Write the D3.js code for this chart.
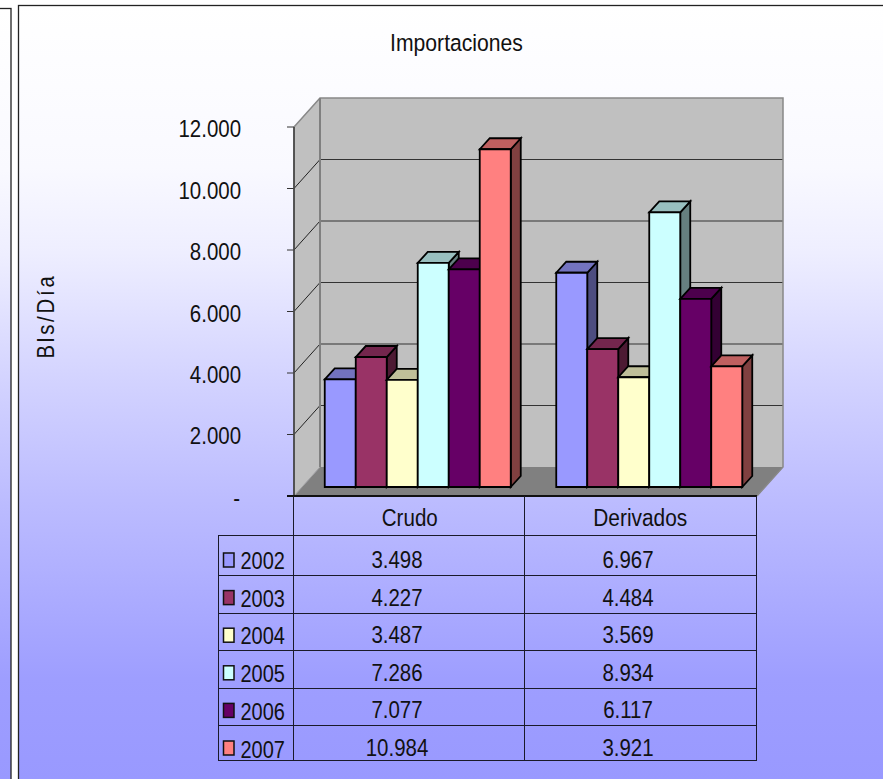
<!DOCTYPE html>
<html><head><meta charset="utf-8">
<script src="https://cdn.jsdelivr.net/npm/d3@7"></script>
<style>html,body{margin:0;padding:0;background:#fff;overflow:hidden}svg{display:block}
text{font-family:"Liberation Sans",Arial,sans-serif;fill:#111}</style></head><body>
<script>
const categories = ["Crudo", "Derivados"];
const years = ["2002", "2003", "2004", "2005", "2006", "2007"];
const crudo = [3498, 4227, 3487, 7286, 7077, 10984];
const derivados = [6967, 4484, 3569, 8934, 6117, 3921];
const seriesColors = ["#9999FF", "#993366", "#FFFFCC", "#CCFFFF", "#660066", "#FF8080"];
const yTicks = [0, 2000, 4000, 6000, 8000, 10000, 12000];
const titleText = "Importaciones";
const yTitle = "Bls/Día";

const W = 883, H = 779;
const plot = {left: 294, right: 757, bottom: 496, top: 127, dx: 26, dy: 29};
const rowEdges = [535.5, 575.5, 613.5, 650.5, 688.5, 725.5, 760.5];
const SX = 0.87, FS = 23.5;

const loc = d3.formatLocale({decimal: ",", thousands: ".", grouping: [3], currency: ["", ""]});
const fmtN = loc.format(",d");
const fmt = v => v === 0 ? "-" : fmtN(v);

const svg = d3.select("body").append("svg").attr("width", W).attr("height", H);
const defs = svg.append("defs");
const grad = (id, y0) => {
  const g = defs.append("linearGradient").attr("id", id).attr("gradientUnits", "userSpaceOnUse")
    .attr("x1", 0).attr("x2", 0).attr("y1", y0).attr("y2", 779);
  [[0, "#ffffff"], [.21, "#f9f9ff"], [.32, "#eeeeff"], [.49, "#d2d2ff"], [.64, "#bcbcff"], [.87, "#9e9eff"], [1, "#9999ff"]]
    .forEach(s => g.append("stop").attr("offset", s[0]).attr("stop-color", s[1]));
};
grad("bgL", 8); grad("bgM", 5);

// panels
svg.append("rect").attr("x", -3).attr("y", 8.5).attr("width", 14).attr("height", 775)
  .attr("fill", "url(#bgL)").attr("stroke", "#222").attr("stroke-width", 1.3);
svg.append("rect").attr("x", 18.5).attr("y", 5.5).attr("width", 870).attr("height", 780)
  .attr("fill", "url(#bgM)").attr("stroke", "#222").attr("stroke-width", 1.3);

const y = d3.scaleLinear().domain([0, 12000]).range([plot.bottom, plot.top]);
const xCat = d3.scaleBand().domain(categories).range([plot.left, plot.right]);
const groupW = 186;
const xYear = d3.scaleBand().domain(years).range([0, groupW]);
const bx = 8, by = 9, bdx = 10, bdy = 11; // position of bars inside floor depth

const line = d3.line();
const poly = pts => line(pts) + "Z";

// walls
svg.append("path").attr("d", poly([[plot.left, y(12000)], [plot.left + plot.dx, y(12000) - plot.dy], [plot.left + plot.dx, y(0) - plot.dy], [plot.left, y(0)]]))
  .attr("fill", "#c0c0c0");
svg.append("rect").attr("x", plot.left + plot.dx).attr("y", y(12000) - plot.dy)
  .attr("width", plot.right - plot.left).attr("height", y(0) - y(12000)).attr("fill", "#c0c0c0");
svg.append("path").attr("d", poly([[plot.left, y(0)], [plot.right, y(0)], [plot.right + plot.dx, y(0) - plot.dy], [plot.left + plot.dx, y(0) - plot.dy]]))
  .attr("fill", "#808080");

// gridlines
const gridVals = yTicks.filter(v => v > 0 && v < 12000);
svg.append("g").selectAll("line").data(gridVals).join("line")
  .attr("x1", plot.left + plot.dx).attr("x2", plot.right + plot.dx)
  .attr("y1", d => y(d) - plot.dy).attr("y2", d => y(d) - plot.dy)
  .attr("stroke", "#333").attr("stroke-width", 1.1);
svg.append("g").selectAll("line").data(gridVals).join("line")
  .attr("x1", plot.left).attr("x2", plot.left + plot.dx)
  .attr("y1", d => y(d)).attr("y2", d => y(d) - plot.dy)
  .attr("stroke", "#222").attr("stroke-width", 1);

// wall outlines
svg.append("path").attr("d", line([[plot.left, y(12000)], [plot.left + plot.dx, y(12000) - plot.dy], [plot.right + plot.dx, y(12000) - plot.dy], [plot.right + plot.dx, y(0) - plot.dy], [plot.right, y(0)]]))
  .attr("fill", "none").attr("stroke", "#888").attr("stroke-width", 1.5);
svg.append("line").attr("x1", plot.left + plot.dx).attr("x2", plot.left + plot.dx)
  .attr("y1", y(12000) - plot.dy).attr("y2", y(0) - plot.dy).attr("stroke", "#808080").attr("stroke-width", 2);
svg.append("line").attr("x1", plot.left).attr("x2", plot.left + plot.dx)
  .attr("y1", y(0)).attr("y2", y(0) - plot.dy).attr("stroke", "#a0a0a0").attr("stroke-width", 1);

// bars
const shade = (c, k) => { const r = d3.rgb(c); return d3.rgb(r.r * k, r.g * k, r.b * k).formatHex(); };
const barData = [];
categories.forEach((cat, ci) => {
  const vals = ci === 0 ? crudo : derivados;
  years.forEach((yr, i) => barData.push({cat, yr, i, v: vals[i]}));
});
const xOuter = (xCat.bandwidth() - groupW) / 2;
const bars = svg.append("g").selectAll("g").data(barData).join("g")
  .attr("stroke", "#000").attr("stroke-width", 1.8).attr("stroke-linejoin", "miter");
const geo = d => {
  const x0 = xCat(d.cat) + xOuter + xYear(d.yr) + bx, x1 = x0 + xYear.bandwidth();
  const b = y(0) - by, t = b - (y(0) - y(d.v));
  return {x0, x1, b, t};
};
bars.append("path").attr("d", d => { const g = geo(d); return poly([[g.x1, g.t], [g.x1 + bdx, g.t - bdy], [g.x1 + bdx, g.b - bdy], [g.x1, g.b]]); })
  .attr("fill", d => shade(seriesColors[d.i], .5));
bars.append("path").attr("d", d => { const g = geo(d); return poly([[g.x0, g.t], [g.x0 + bdx, g.t - bdy], [g.x1 + bdx, g.t - bdy], [g.x1, g.t]]); })
  .attr("fill", d => shade(seriesColors[d.i], .75));
bars.append("path").attr("d", d => { const g = geo(d); return poly([[g.x0, g.t], [g.x1, g.t], [g.x1, g.b], [g.x0, g.b]]); })
  .attr("fill", d => seriesColors[d.i]);

// value axis
svg.append("g").selectAll("line").data(yTicks).join("line")
  .attr("x1", plot.left - 7).attr("x2", plot.left).attr("y1", d => y(d)).attr("y2", d => y(d))
  .attr("stroke", "#333").attr("stroke-width", 1);
svg.append("line").attr("x1", plot.left).attr("x2", plot.left).attr("y1", y(12000)).attr("y2", y(0))
  .attr("stroke", "#444").attr("stroke-width", 1.8);
svg.append("line").attr("x1", plot.left - 7).attr("x2", plot.right).attr("y1", y(0)).attr("y2", y(0))
  .attr("stroke", "#111").attr("stroke-width", 1.8);

const label = (s, x, yy, anchor, sx = SX, ls = 0, size = FS) =>
  svg.append("text").text(s).attr("text-anchor", anchor).attr("font-size", size)
    .attr("letter-spacing", ls)
    .attr("transform", `translate(${x},${yy}) scale(${sx},1)`);

yTicks.forEach(v => label(fmt(v), v === 0 ? 240 : 241, y(v) + (v <= 2000 && v > 0 ? 9 : 10), "end", SX));

// titles
label(titleText, 456.5, 51, "middle", .9);
svg.append("text").text(yTitle).attr("text-anchor", "middle").attr("font-size", 23).attr("letter-spacing", 3.2)
  .attr("transform", `translate(54,316) rotate(-90) scale(0.88,1)`);

// data table
const tbl = svg.append("g").attr("stroke", "#1a1a2a").attr("stroke-width", 1).attr("shape-rendering", "crispEdges");
tbl.selectAll("line.h").data(rowEdges).join("line").attr("class", "h")
  .attr("x1", 218).attr("x2", plot.right).attr("y1", d => d).attr("y2", d => d);
const colEdges = [plot.left - .5, Math.floor(xCat(categories[1])) - .5, plot.right - .5];
tbl.selectAll("line.v").data(colEdges).join("line").attr("class", "v")
  .attr("x1", d => d).attr("x2", d => d).attr("y1", y(0)).attr("y2", rowEdges[6]);
tbl.append("line").attr("x1", 218.5).attr("x2", 218.5).attr("y1", rowEdges[0]).attr("y2", rowEdges[6]);

categories.forEach((c, i) => label(c, xCat(c) + xCat.bandwidth() / 2 - (i ? 1 : 0), 525.5, "middle", i ? .888 : .875));
const valueCenter = [397, 628];
const rowText = d3.scaleLinear().domain([0, 5]).range([568, 756]);
const rowLegend = d3.scaleLinear().domain([0, 5]).range([569, 757.5]);
const rowKey = d3.scaleLinear().domain([0, 5]).range([553, 741]);
[crudo, derivados].forEach((vals, ci) => vals.forEach((v, i) =>
  label(fmt(v), valueCenter[ci], rowText(i), "middle", SX)));
years.forEach((yr, i) => {
  svg.append("rect").attr("x", 223.5).attr("y", rowKey(i)).attr("width", 10.5).attr("height", 14)
    .attr("fill", seriesColors[i]).attr("stroke", "#111").attr("stroke-width", 1.5);
  label(yr, 240.5, rowLegend(i), "start", .85);
});
</script></body></html>
